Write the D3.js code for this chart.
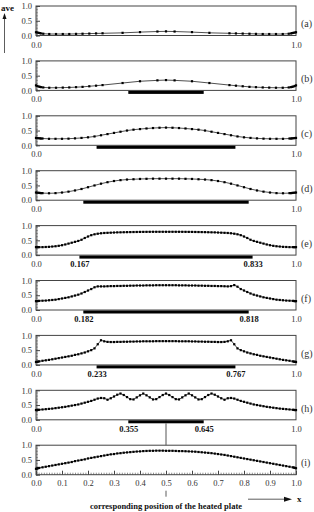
<!DOCTYPE html>
<html><head><meta charset="utf-8">
<script src="https://cdn.jsdelivr.net/npm/d3@7"></script>
<style>
html,body{margin:0;padding:0;background:#fff;}
svg{display:block;font-family:"Liberation Serif","Times New Roman",serif;}
</style></head>
<body>
<svg id="chart" width="314" height="512"></svg>
<script>
// ---------- DATA ----------
const panelLabels = ["(a)","(b)","(c)","(d)","(e)","(f)","(g)","(h)","(i)"];
const plateStart = [null, 0.355, 0.233, 0.182, 0.167, 0.182, 0.233, 0.355, null];
const plateEnd   = [null, 0.645, 0.767, 0.818, 0.833, 0.818, 0.767, 0.645, null];
const plateLabelShown = [false, false, false, false, true, true, true, true, false];
const yTickValues = [0, 0.5, 1];
const xTickEnds = [0, 1];
const xTicksLast = [0,0.1,0.2,0.3,0.4,0.5,0.6,0.7,0.8,0.9,1];

const xsAB = [0,0.005,0.01,0.015,0.02,0.028,0.051,0.077,0.103,0.128,0.154,0.179,0.205,0.231,0.256,0.333,0.4,0.467,0.5,0.533,0.6,0.667,0.744,0.769,0.795,0.821,0.846,0.872,0.897,0.923,0.949,0.972,0.98,0.985,0.99,0.995,1];
const xsCD = [0,0.005,0.01,0.015,0.02,0.025,0.05,0.075,0.1,0.125,0.15,0.175,0.2,0.225,0.25,0.275,0.3,0.325,0.35,0.375,0.4,0.425,0.45,0.475,0.5,0.525,0.55,0.575,0.6,0.625,0.65,0.675,0.7,0.725,0.75,0.775,0.8,0.825,0.85,0.875,0.9,0.925,0.95,0.975,0.98,0.985,0.99,0.995,1];
const xsFine = [0,0.004,0.008,0.0125,0.025,0.0375,0.05,0.0625,0.075,0.0875,0.1,0.1125,0.125,0.1375,0.15,0.1625,0.175,0.1875,0.2,0.2125,0.225,0.2375,0.25,0.2625,0.275,0.2875,0.3,0.3125,0.325,0.3375,0.35,0.3625,0.375,0.3875,0.4,0.4125,0.425,0.4375,0.45,0.4625,0.475,0.4875,0.5,0.5125,0.525,0.5375,0.55,0.5625,0.575,0.5875,0.6,0.6125,0.625,0.6375,0.65,0.6625,0.675,0.6875,0.7,0.7125,0.725,0.7375,0.75,0.7625,0.775,0.7875,0.8,0.8125,0.825,0.8375,0.85,0.8625,0.875,0.8875,0.9,0.9125,0.925,0.9375,0.95,0.9625,0.975,0.9875,0.992,0.996,1];

const aveA = [0.11,0.1,0.09,0.08,0.07,0.06,0.05,0.05,0.05,0.05,0.055,0.06,0.065,0.07,0.075,0.09,0.115,0.135,0.14,0.135,0.115,0.09,0.075,0.07,0.065,0.06,0.055,0.05,0.05,0.05,0.05,0.06,0.07,0.08,0.09,0.1,0.11];
const aveB = [0.17,0.15,0.13,0.12,0.11,0.1,0.09,0.09,0.095,0.1,0.11,0.12,0.14,0.16,0.18,0.25,0.31,0.34,0.35,0.34,0.31,0.25,0.18,0.16,0.14,0.12,0.11,0.1,0.095,0.09,0.09,0.1,0.11,0.12,0.13,0.15,0.17];
const aveC = [0.25,0.245,0.24,0.235,0.23,0.23,0.22,0.22,0.22,0.225,0.235,0.25,0.27,0.3,0.34,0.38,0.42,0.46,0.5,0.53,0.55,0.57,0.585,0.595,0.6,0.595,0.585,0.57,0.55,0.53,0.5,0.46,0.42,0.38,0.34,0.3,0.27,0.25,0.235,0.225,0.22,0.22,0.22,0.23,0.23,0.235,0.24,0.245,0.25];
const aveD = [0.26,0.255,0.25,0.245,0.24,0.24,0.235,0.24,0.26,0.29,0.33,0.38,0.44,0.5,0.56,0.61,0.65,0.68,0.7,0.71,0.72,0.725,0.73,0.73,0.73,0.73,0.73,0.725,0.72,0.71,0.7,0.68,0.65,0.61,0.56,0.5,0.44,0.38,0.33,0.29,0.26,0.24,0.235,0.24,0.24,0.245,0.25,0.255,0.26];
const aveE = [0.27,0.27,0.27,0.27,0.27,0.275,0.28,0.29,0.3,0.315,0.335,0.36,0.39,0.42,0.45,0.48,0.52,0.58,0.63,0.675,0.705,0.725,0.74,0.75,0.755,0.76,0.765,0.77,0.772,0.775,0.778,0.78,0.782,0.784,0.786,0.787,0.788,0.789,0.79,0.79,0.79,0.79,0.79,
  0.79,0.79,0.79,0.79,0.789,0.788,0.787,0.786,0.784,0.782,0.78,0.778,0.775,0.772,0.77,0.765,0.76,0.755,0.75,0.74,0.725,0.705,0.675,0.63,0.58,0.52,0.48,0.45,0.42,0.39,0.36,0.335,0.315,0.3,0.29,0.28,0.275,0.27,0.27,0.27,0.27,0.27];
const aveF = [0.3,0.3,0.305,0.31,0.315,0.32,0.33,0.34,0.35,0.37,0.39,0.41,0.43,0.46,0.49,0.52,0.56,0.61,0.66,0.71,0.77,0.8,0.8,0.8,0.805,0.81,0.81,0.815,0.815,0.82,0.82,0.825,0.825,0.83,0.83,0.83,0.835,0.835,0.835,0.84,0.84,0.84,0.84,
  0.84,0.84,0.84,0.835,0.835,0.835,0.83,0.83,0.83,0.825,0.825,0.82,0.82,0.815,0.815,0.81,0.81,0.805,0.8,0.81,0.845,0.79,0.71,0.66,0.61,0.56,0.52,0.49,0.46,0.43,0.41,0.39,0.37,0.35,0.34,0.33,0.32,0.315,0.31,0.305,0.3,0.3];
const aveG = [0.1,0.105,0.11,0.12,0.14,0.155,0.17,0.19,0.21,0.23,0.25,0.27,0.29,0.31,0.34,0.36,0.39,0.42,0.46,0.5,0.56,0.7,0.835,0.8,0.78,0.775,0.775,0.78,0.78,0.785,0.785,0.79,0.79,0.795,0.795,0.8,0.8,0.8,0.8,0.805,0.805,0.805,0.805,
  0.805,0.805,0.805,0.8,0.8,0.8,0.8,0.795,0.795,0.79,0.79,0.785,0.785,0.78,0.78,0.775,0.775,0.78,0.8,0.835,0.7,0.56,0.5,0.46,0.42,0.39,0.36,0.34,0.31,0.29,0.27,0.25,0.23,0.21,0.19,0.17,0.155,0.14,0.12,0.11,0.105,0.1];
const aveH = [0.33,0.33,0.335,0.34,0.35,0.36,0.37,0.38,0.395,0.41,0.425,0.44,0.46,0.48,0.5,0.52,0.55,0.58,0.61,0.64,0.68,0.72,0.74,0.73,0.68,0.73,0.79,0.85,0.89,0.84,0.77,0.7,0.69,0.76,0.83,0.89,0.83,0.76,0.69,0.7,0.77,0.84,0.89,
  0.84,0.77,0.7,0.69,0.76,0.83,0.89,0.83,0.76,0.69,0.7,0.77,0.84,0.89,0.85,0.79,0.73,0.68,0.73,0.74,0.72,0.68,0.64,0.61,0.58,0.55,0.52,0.5,0.48,0.46,0.44,0.425,0.41,0.395,0.38,0.37,0.36,0.35,0.34,0.335,0.33,0.33];
const aveI = [0.2,0.21,0.22,0.23,0.25,0.27,0.29,0.31,0.33,0.35,0.37,0.39,0.41,0.43,0.46,0.48,0.5,0.52,0.55,0.57,0.59,0.61,0.63,0.65,0.67,0.69,0.7,0.72,0.73,0.745,0.755,0.765,0.775,0.785,0.79,0.8,0.805,0.81,0.81,0.815,0.815,0.815,0.81,
  0.81,0.81,0.805,0.8,0.8,0.795,0.79,0.785,0.78,0.77,0.76,0.75,0.74,0.73,0.715,0.7,0.685,0.67,0.65,0.63,0.61,0.59,0.57,0.55,0.53,0.51,0.49,0.47,0.45,0.43,0.41,0.39,0.37,0.35,0.33,0.31,0.29,0.27,0.25,0.24,0.23,0.22];

const panelXs = [xsAB, xsAB, xsCD, xsCD, xsFine, xsFine, xsFine, xsFine, xsFine];
const panelYs = [aveA, aveB, aveC, aveD, aveE, aveF, aveG, aveH, aveI];

// ---------- LAYOUT ----------
const svg = d3.select("#chart");
const left = 36, right = 296, top0 = 6, step = 54.9, ph = 29.5;
const x = d3.scaleLinear().domain([0,1]).range([left, right]);
const frameColor = "#444", textColor = "#333";

panelLabels.forEach((lab, i) => {
  const top = top0 + i*step, bottom = top + ph;
  const y = d3.scaleLinear().domain([0,1]).range([bottom, top]);
  const g = svg.append("g");

  // frame
  g.append("rect").attr("x", left).attr("y", top).attr("width", right-left).attr("height", ph)
    .attr("fill","none").attr("stroke", frameColor).attr("stroke-width", 1);

  // minor y ticks
  g.append("g").attr("transform", `translate(${left},0)`)
    .call(d3.axisLeft(y).tickValues(d3.range(0, 1.0001, 0.05)).tickSize(-2).tickFormat(""))
    .call(s => s.select(".domain").remove())
    .call(s => s.selectAll("line").attr("stroke", frameColor).attr("stroke-width", 0.6));
  // major y ticks with labels
  g.append("g").attr("transform", `translate(${left},0)`)
    .call(d3.axisLeft(y).tickValues(yTickValues).tickSize(-4).tickPadding(4).tickFormat(d3.format(".1f")))
    .call(s => s.select(".domain").remove())
    .call(s => s.selectAll("line").attr("stroke", frameColor))
    .call(s => s.selectAll("text").attr("font-size", "8.5px").attr("fill", textColor)
      .attr("font-family", '"Liberation Serif",serif'));

  // x axis
  if (i < 8) {
    g.append("g").attr("transform", `translate(0,${bottom})`)
      .call(d3.axisBottom(x).tickValues(xTickEnds).tickSize(0).tickPadding(6).tickFormat(d3.format(".1f")))
      .call(s => s.select(".domain").remove())
      .call(s => s.selectAll("text").attr("font-size", "8.5px").attr("fill", textColor)
        .attr("font-family", '"Liberation Serif",serif'));
    if (plateLabelShown[i]) {
      g.append("g").attr("transform", `translate(0,${bottom})`)
        .call(d3.axisBottom(x).tickValues([plateStart[i], plateEnd[i]]).tickSize(0).tickPadding(6).tickFormat(d3.format(".3f")))
        .call(s => s.select(".domain").remove())
        .call(s => s.selectAll("text").attr("font-size", "8.5px").attr("font-weight", "bold").attr("fill", "#111")
          .attr("font-family", '"Liberation Serif",serif'));
    }
  } else {
    g.append("g").attr("transform", `translate(0,${bottom})`)
      .call(d3.axisBottom(x).tickValues(d3.range(0, 1.0001, 0.01)).tickSize(-2).tickFormat(""))
      .call(s => s.select(".domain").remove())
      .call(s => s.selectAll("line").attr("stroke", frameColor).attr("stroke-width", 0.6));
    g.append("g").attr("transform", `translate(0,${bottom})`)
      .call(d3.axisBottom(x).tickValues(xTicksLast).tickSize(-4).tickPadding(5).tickFormat(d3.format(".1f")))
      .call(s => s.select(".domain").remove())
      .call(s => s.selectAll("line").attr("stroke", frameColor))
      .call(s => s.selectAll("text").attr("font-size", "8.5px").attr("fill", textColor)
        .attr("font-family", '"Liberation Serif",serif'));
  }

  // heated plate bar
  if (plateStart[i] !== null) {
    g.append("rect").attr("x", x(plateStart[i])).attr("y", bottom + 0.5)
      .attr("width", x(plateEnd[i]) - x(plateStart[i])).attr("height", 3).attr("fill", "#000");
  }

  // curve
  const xs = panelXs[i], ys = panelYs[i];
  const pts = xs.map((v, k) => [v, ys[k]]).filter(p => p[1] !== undefined);
  g.append("path").datum(pts)
    .attr("d", d3.line().x(p => x(p[0])).y(p => y(p[1])))
    .attr("fill", "none").attr("stroke", "#222").attr("stroke-width", 0.8);
  g.selectAll("rect.pt").data(pts).join("rect").attr("class", "pt")
    .attr("x", p => x(p[0]) - 1.1).attr("y", p => y(p[1]) - 1.1)
    .attr("width", 2.2).attr("height", 2.2).attr("fill", "#000");

  // panel label
  g.append("text").attr("x", 301).attr("y", y(0.4)).attr("dy", "0.35em")
    .attr("font-size", "10px").attr("fill", textColor).text(lab);
});

// connector line from (h) plate to (i)
const hBottom = top0 + 7*step + ph, iTop = top0 + 8*step;
svg.append("line").attr("x1", x(0.5)).attr("x2", x(0.5)).attr("y1", hBottom + 3.5).attr("y2", iTop)
  .attr("stroke", "#555").attr("stroke-width", 1);

// "ave" axis arrow
svg.append("text").attr("x", 1).attr("y", 11).attr("font-size", "9px").attr("font-weight", "bold")
  .attr("fill", "#111").text("ave");
svg.append("line").attr("x1", 4.5).attr("x2", 4.5).attr("y1", 18).attr("y2", 53).attr("stroke", "#333").attr("stroke-width", 0.8);
svg.append("path").attr("d", "M4.5,13 L2.5,19 L6.5,19 Z").attr("fill", "#111");

// bottom annotation
const bY = top0 + 8*step + ph;
svg.append("line").attr("x1", x(0.5)).attr("x2", x(0.5)).attr("y1", bY + 16).attr("y2", bY + 22)
  .attr("stroke", "#333").attr("stroke-width", 0.8);
svg.append("text").attr("x", x(0.5)).attr("y", bY + 34).attr("text-anchor", "middle")
  .attr("font-size", "8.5px").attr("font-weight", "bold").attr("fill", "#111")
  .text("corresponding position of the heated plate");
svg.append("line").attr("x1", 248).attr("x2", 286).attr("y1", bY + 24.5).attr("y2", bY + 24.5)
  .attr("stroke", "#333").attr("stroke-width", 0.8);
svg.append("path").attr("d", `M292,${bY+24.5} L284,${bY+22} L284,${bY+27} Z`).attr("fill", "#111");
svg.append("text").attr("x", 297).attr("y", bY + 27.5).attr("font-size", "9px").attr("font-weight", "bold")
  .attr("fill", "#111").text("x");
</script>
</body></html>
